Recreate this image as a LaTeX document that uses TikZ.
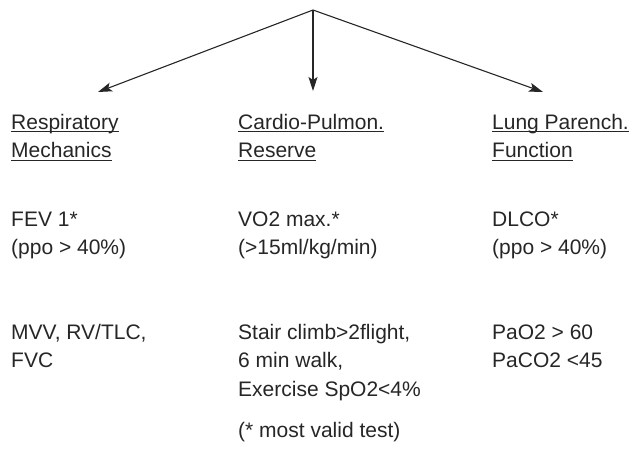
\documentclass[tikz,border=0pt]{standalone}
\usepackage{fontspec}
\setmainfont{Liberation Sans}
\usetikzlibrary{arrows.meta}
\newcommand{\myul}[1]{\setbox0\hbox{#1}\rlap{\vrule height -2.2pt depth 3.2pt width \wd0}\box0}
\newcommand{\blk}[1]{\begin{tabular}[t]{@{}l@{}}#1\end{tabular}}
\tikzset{
  txt/.style={anchor=base west, inner sep=0pt, text=black!85,
    font=\fontsize{21}{28.5}\selectfont},
  arr/.style={draw=black!85, line width=1.1pt,
    -{Stealth[length=14pt, width=9pt, inset=3pt]}}
}
\begin{document}
\begin{tikzpicture}[x=1pt, y=-1pt]
\useasboundingbox (0,0) rectangle (630,451);
\coordinate (top) at (313,10);
\coordinate (tl) at (98,92);
\coordinate (tm) at (313,91);
\coordinate (tr) at (543,92);
\draw[arr] (top) -- (tl);
\draw[arr] (top) -- (tm);
\draw[arr] (top) -- (tr);

\node[txt] (h1) at (11,129) {\blk{\myul{Respiratory}\\\myul{Mechanics}}};
\node[txt] (h2) at (238,129) {\blk{\myul{Cardio-Pulmon.}\\\myul{Reserve}}};
\node[txt] (h3) at (492,129) {\blk{\myul{Lung Parench.}\\\myul{Function}}};

\node[txt] (a1) at (11,226) {\blk{FEV 1*\\(ppo > 40\%)}};
\node[txt] (a2) at (238,226) {\blk{VO2 max.*\\(>15ml/kg/min)}};
\node[txt] (a3) at (492,226) {\blk{DLCO*\\(ppo > 40\%)}};

\node[txt] (b1) at (11,339) {\blk{MVV, RV/TLC,\\FVC}};
\node[txt] (b2) at (238,339) {\blk{Stair climb>2flight,\\6 min walk,\\Exercise SpO2<4\%}};
\node[txt] (b3) at (492,339) {\blk{PaO2 > 60\\PaCO2 <45}};

\node[txt] (note) at (238,437) {(* most valid test)};
\end{tikzpicture}
\end{document}
